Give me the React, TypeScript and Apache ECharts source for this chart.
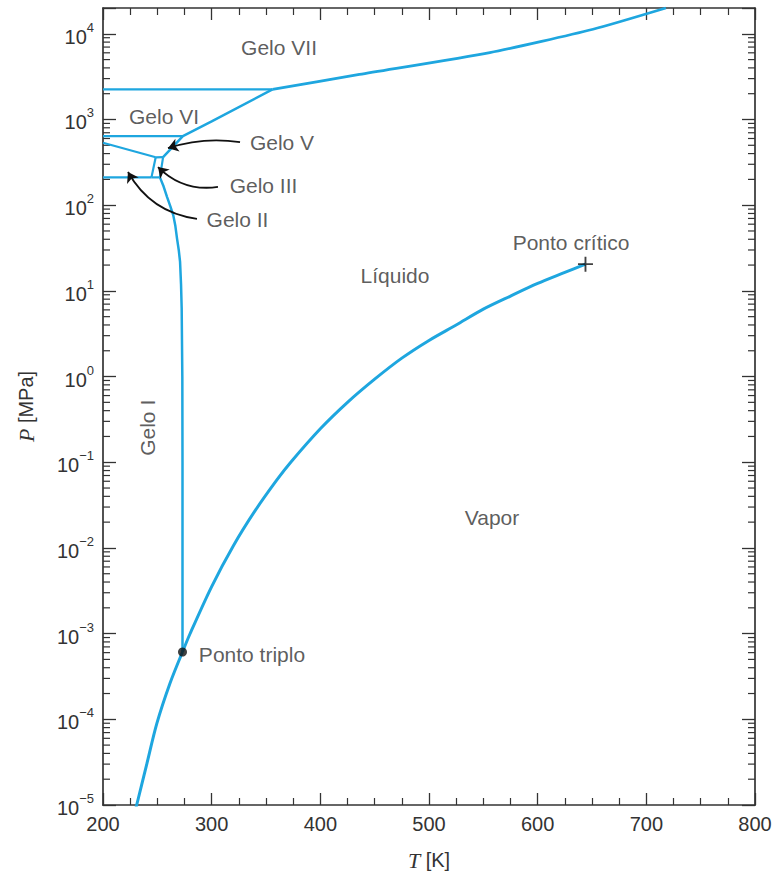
import React, { useEffect, useRef } from "react";
import * as echarts from "echarts";

// Phase boundaries: [T in K, P in MPa]
const sublimation = [[229.5, 8.5e-6], [231, 1e-5], [240, 2.9e-5], [249.5, 8.9e-5], [261.5, 2.6e-4], [273.16, 6.1e-4]];
const vaporization = [[273.16, 6.1e-4], [280, 9.9e-4], [300, 3.54e-3], [320, 0.0106], [340, 0.0272], [360, 0.0622], [373.15, 0.1014], [400, 0.2457], [425, 0.5], [450, 0.932], [475, 1.64], [500, 2.64], [525, 4.0], [550, 6.12], [575, 8.7], [600, 12.2], [625, 16.4], [644, 20.5]];
const meltingI = [[252.4, 211], [255.8, 165], [258.9, 125], [262, 97], [264.7, 76], [266.6, 57], [268.1, 41], [269.7, 30], [270.9, 22], [271.8, 12], [272.4, 6.3], [273.0, 1], [273.16, 0.1], [273.16, 6.1e-4]];
const boundaryI_II = [[200, 211], [244.6, 211]];
const boundaryI_III = [[244.6, 211], [252.4, 211]];
const boundaryII_III = [[244.6, 211], [248.5, 362]];
const boundaryIII_V = [[248.5, 362], [255.3, 364]];
const boundaryII_V = [[200, 536], [248.5, 362]];
const meltingIII = [[252.4, 211], [255.3, 364]];
const meltingV_VI = [[255.3, 364], [273.5, 640], [300, 950], [356, 2240]];
const boundaryV_VI = [[200, 640], [273.5, 640]];
const boundaryVI_VII = [[200, 2240], [356, 2240]];
const meltingVII = [[356, 2240], [436, 3350], [556, 6030], [651, 11300], [718, 20000]];

const triplePoint = [273.16, 6.1e-4];
const criticalPoint = [644, 20.5];

// Annotation labels: name, T, log10 P, rotation
const labelNames = ["Gelo VII", "Gelo VI", "Gelo V", "Gelo III", "Gelo II", "Líquido", "Ponto crítico", "Vapor", "Ponto triplo", "Gelo I"];
const labelT = [362, 256.1, 364.7, 347.7, 323.8, 468.7, 630.7, 558, 337.1, 241.4];
const labelLogP = [3.839, 3.037, 2.735, 2.224, 1.829, 1.179, 1.562, -1.643, -3.246, -0.598];
const labelRotate = [0, 0, 0, 0, 0, 0, 0, 0, 0, 90];

// Arrows: start [T, logP], end [T, logP], curveness
const arrowStarts = [[326.1, 2.735], [305.8, 2.213], [286.5, 1.841]];
const arrowEnds = [[259.8, 2.665], [250.6, 2.445], [223, 2.387]];
const arrowCurves = [-0.12, 0.25, 0.25];

const xTicks = { min: 200, max: 800, interval: 100 };
const yMinExp = -5;
const yMaxP = 20000;

const BLUE = "#1ea6df";
const INK = "#333";
const FONT = "Liberation Sans";

const toLog = (arr: number[][]) => arr.map(([t, p]) => [t, Math.log10(p)]);

export default function App() {
  const ref = useRef<HTMLDivElement>(null);
  useEffect(() => {
    document.body.style.margin = "0";
    if (!ref.current) return;
    const chart = echarts.init(ref.current, null, { renderer: "svg" });
    const yMax = Math.log10(yMaxP);
    const minorVals: number[][] = [];
    for (let n = yMinExp; n <= 4; n++) {
      for (let k = 2; k <= 9; k++) {
        const v = n + Math.log10(k);
        if (v < yMax) minorVals.push([200, v]);
      }
    }
    const line = (data: number[][], width = 2.5, smooth: any = false) => ({
      type: "line",
      data: toLog(data),
      showSymbol: false,
      symbol: "none",
      smooth,
      lineStyle: { color: BLUE, width },
      silent: true,
      z: 3,
    });
    const yLabel = (v: number) => {
      const r = Math.round(v);
      if (Math.abs(v - r) > 1e-6) return "";
      const e = r < 0 ? "\u2212" + -r : String(r);
      return `{b|10}{s|${e}}`;
    };
    const axisCommon = {
      axisLine: { show: true, onZero: false, lineStyle: { color: INK, width: 1.7 } },
      splitLine: { show: false },
    };
    const nameRich = {
      i: { fontFamily: "Liberation Serif", fontStyle: "italic", fontSize: 22, color: INK },
      n: { fontFamily: FONT, fontSize: 20, color: INK },
    };
    chart.setOption({
      animation: false,
      grid: { left: 103, right: 21, top: 8, bottom: 67, containLabel: false },
      xAxis: [
        {
          type: "value",
          ...xTicks,
          ...axisCommon,
          axisTick: { show: true, inside: true, length: 12, lineStyle: { color: INK, width: 1.3 } },
          minorTick: { show: true, splitNumber: 4, length: 7, lineStyle: { color: INK, width: 1.2 } },
          axisLabel: { color: INK, fontSize: 20, fontFamily: FONT, margin: 9 },
          name: "{i|T}{n| [K]}",
          nameLocation: "middle",
          nameGap: 44,
          nameTextStyle: { rich: nameRich },
        },
        {
          type: "value",
          position: "top",
          ...xTicks,
          ...axisCommon,
          axisTick: { show: true, inside: true, length: 12, lineStyle: { color: INK, width: 1.3 } },
          minorTick: { show: true, splitNumber: 4, length: 7, lineStyle: { color: INK, width: 1.2 } },
          axisLabel: { show: false },
        },
      ],
      yAxis: [
        {
          type: "value",
          min: yMinExp,
          max: yMax,
          interval: 1,
          ...axisCommon,
          axisTick: { show: true, inside: true, length: 13, lineStyle: { color: INK, width: 1.3 } },
          axisLabel: {
            formatter: yLabel,
            margin: 9,
            rich: {
              b: { fontSize: 20, fontFamily: FONT, color: INK, verticalAlign: "bottom", lineHeight: 26 },
              s: { fontSize: 13, fontFamily: FONT, color: INK, verticalAlign: "top", lineHeight: 15 },
            },
          },
          name: "{i|P}{n| [MPa]}",
          nameLocation: "middle",
          nameGap: 66,
          nameTextStyle: { rich: nameRich },
        },
        {
          type: "value",
          position: "right",
          min: yMinExp,
          max: yMax,
          interval: 1,
          ...axisCommon,
          axisTick: { show: true, inside: true, length: 13, lineStyle: { color: INK, width: 1.3 } },
          axisLabel: { show: false },
        },
      ],
      series: [
        line(sublimation, 3, 0.3),
        line(vaporization, 3, 0.3),
        line(meltingI, 2.5),
        line(boundaryI_II, 2.2),
        line(boundaryI_III, 2.2),
        line(boundaryII_III, 2.2),
        line(boundaryIII_V, 2.2),
        line(boundaryII_V, 2.2),
        line(meltingIII, 2.2),
        line(meltingV_VI, 2.5),
        line(boundaryV_VI, 2.2),
        line(boundaryVI_VII, 2.2),
        line(meltingVII, 2.8, 0.2),
        {
          type: "custom",
          silent: true,
          data: minorVals,
          encode: { x: 0, y: 1 },
          renderItem: (_p: any, api: any) => {
            const v = api.value(1);
            const l = api.coord([200, v]);
            const r = api.coord([800, v]);
            return {
              type: "group",
              children: [
                { type: "line", shape: { x1: l[0], y1: l[1], x2: l[0] + 7, y2: l[1] }, style: { stroke: INK, lineWidth: 1.2 } },
                { type: "line", shape: { x1: r[0], y1: r[1], x2: r[0] - 7, y2: r[1] }, style: { stroke: INK, lineWidth: 1.2 } },
              ],
            };
          },
          z: 2,
        },
        {
          type: "lines",
          coordinateSystem: "cartesian2d",
          silent: true,
          symbol: ["none", "arrow"],
          symbolSize: 10,
          data: arrowStarts.map((s, i) => ({
            coords: [s, arrowEnds[i]],
            lineStyle: { curveness: arrowCurves[i] },
          })),
          lineStyle: { color: "#111", width: 1.8, opacity: 1 },
          z: 5,
        },
        {
          type: "scatter",
          silent: true,
          data: [[triplePoint[0], Math.log10(triplePoint[1])]],
          symbol: "circle",
          symbolSize: 9,
          itemStyle: { color: "#111" },
          z: 6,
        },
        {
          type: "scatter",
          silent: true,
          data: [[criticalPoint[0], Math.log10(criticalPoint[1])]],
          symbol: "path://M-1,-8H1V-1H8V1H1V8H-1V1H-8V-1H-1Z",
          symbolSize: 15,
          itemStyle: { color: "#111" },
          z: 6,
        },
        {
          type: "scatter",
          silent: true,
          symbolSize: 0,
          data: labelNames.map((n, i) => ({
            name: n,
            value: [labelT[i], labelLogP[i]],
            label: { rotate: labelRotate[i] },
          })),
          label: {
            show: true,
            position: "inside",
            formatter: (p: any) => p.name,
            color: INK,
            fontSize: 21,
            fontFamily: FONT,
          },
          z: 7,
        },
      ],
    });
    return () => chart.dispose();
  }, []);
  return <div ref={ref} style={{ width: 776, height: 876 }} />;
}
